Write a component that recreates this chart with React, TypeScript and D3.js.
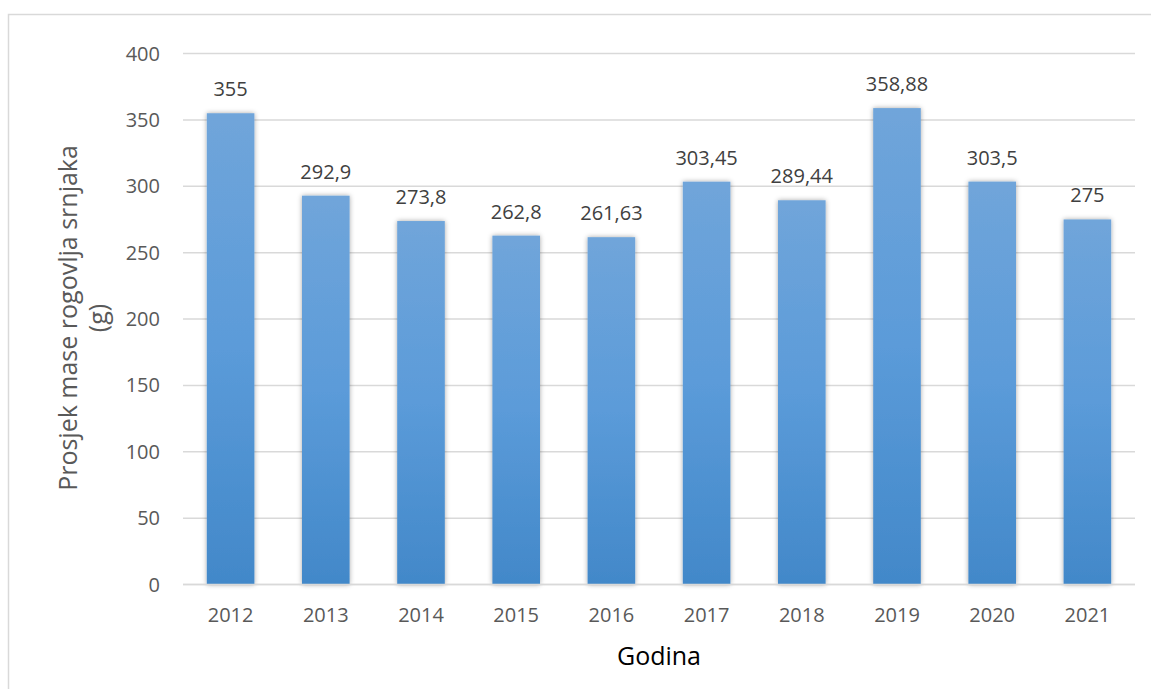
import { useEffect, useRef } from 'react'
import * as d3 from 'd3'

const years = ['2012', '2013', '2014', '2015', '2016', '2017', '2018', '2019', '2020', '2021']
const masses = [355, 292.9, 273.8, 262.8, 261.63, 303.45, 289.44, 358.88, 303.5, 275]
const massLabels = ['355', '292,9', '273,8', '262,8', '261,63', '303,45', '289,44', '358,88', '303,5', '275']
const yTicks = [0, 50, 100, 150, 200, 250, 300, 350, 400]

export default function App() {
  const svgRef = useRef<SVGSVGElement>(null)
  const width = 1151
  const height = 689

  useEffect(() => {
    if (!svgRef.current) return
    document.body.style.margin = '0'

    const svg = d3.select(svgRef.current)
    svg.selectAll('*').remove()
    svg.attr('width', width).attr('height', height)

    const font = '"Open Sans", sans-serif'
    const margin = { left: 183, right: 1135, top: 53.5, bottom: 584.5 }

    // gradient + shadow
    const defs = svg.append('defs')
    const grad = defs.append('linearGradient')
      .attr('id', 'barGrad')
      .attr('x1', 0).attr('y1', 0).attr('x2', 0).attr('y2', 1)
    grad.append('stop').attr('offset', '0%').attr('stop-color', '#70A5DA')
    grad.append('stop').attr('offset', '50%').attr('stop-color', '#5B9BD9')
    grad.append('stop').attr('offset', '100%').attr('stop-color', '#4288C9')

    const shadow = defs.append('filter')
      .attr('id', 'barShadow')
      .attr('x', '-30%').attr('y', '-10%').attr('width', '160%').attr('height', '120%')
    shadow.append('feDropShadow')
      .attr('dx', 0).attr('dy', 0)
      .attr('stdDeviation', 2.5)
      .attr('flood-color', '#000')
      .attr('flood-opacity', 0.35)

    svg.append('rect')
      .attr('width', width).attr('height', height).attr('fill', '#fff')

    // chart border
    svg.append('rect')
      .attr('x', 8.5).attr('y', 14.5)
      .attr('width', width + 20).attr('height', height + 20)
      .attr('fill', 'none')
      .attr('stroke', '#D9D9D9')
      .attr('stroke-width', 1.5)

    const x = d3.scaleBand()
      .domain(years)
      .range([margin.left, margin.right])
      .paddingInner(0.5)
      .paddingOuter(0.25)

    const y = d3.scaleLinear()
      .domain([0, 400])
      .range([margin.bottom, margin.top])

    // gridlines
    svg.append('g')
      .selectAll('line')
      .data(yTicks)
      .enter().append('line')
      .attr('x1', margin.left).attr('x2', margin.right)
      .attr('y1', d => y(d)).attr('y2', d => y(d))
      .attr('stroke', '#D9D9D9')
      .attr('stroke-width', 1.5)

    // y tick labels
    svg.append('g')
      .selectAll('text')
      .data(yTicks)
      .enter().append('text')
      .attr('x', 160)
      .attr('y', d => y(d))
      .attr('dy', '0.35em')
      .attr('text-anchor', 'end')
      .style('font-family', font)
      .style('font-size', '20px')
      .attr('fill', '#595959')
      .text(d => d)

    // bars
    svg.append('g')
      .selectAll('rect')
      .data(masses)
      .enter().append('rect')
      .attr('x', (d, i) => x(years[i])!)
      .attr('width', x.bandwidth())
      .attr('y', d => y(d))
      .attr('height', d => y(0) - y(d))
      .attr('fill', 'url(#barGrad)')
      .attr('filter', 'url(#barShadow)')

    // axis line on top of bars
    svg.append('line')
      .attr('x1', margin.left).attr('x2', margin.right)
      .attr('y1', y(0)).attr('y2', y(0))
      .attr('stroke', '#D9D9D9')
      .attr('stroke-width', 1.5)

    // data labels
    svg.append('g')
      .selectAll('text')
      .data(masses)
      .enter().append('text')
      .attr('x', (d, i) => x(years[i])! + x.bandwidth() / 2)
      .attr('y', d => y(d) - 17)
      .attr('text-anchor', 'middle')
      .style('font-family', font)
      .style('font-size', '20px')
      .attr('fill', '#404040')
      .text((d, i) => massLabels[i])

    // x tick labels
    svg.append('g')
      .selectAll('text')
      .data(years)
      .enter().append('text')
      .attr('x', d => x(d)! + x.bandwidth() / 2)
      .attr('y', 622)
      .attr('text-anchor', 'middle')
      .style('font-family', font)
      .style('font-size', '20px')
      .attr('fill', '#595959')
      .text(d => d)

    // x axis title
    svg.append('text')
      .attr('x', (margin.left + margin.right) / 2)
      .attr('y', 665)
      .attr('text-anchor', 'middle')
      .style('font-family', font)
      .style('font-size', '25px')
      .attr('fill', '#000')
      .text('Godina')

    // y axis title
    const yTitle = svg.append('text')
      .attr('transform', 'translate(77, 318) rotate(-90)')
      .attr('text-anchor', 'middle')
      .style('font-family', font)
      .style('font-size', '25px')
      .attr('fill', '#595959')
    yTitle.append('tspan').attr('x', 0).attr('y', 0).text('Prosjek mase rogovlja srnjaka')
    yTitle.append('tspan').attr('x', 0).attr('y', 30).text('(g)')
  }, [])

  return <svg ref={svgRef} style={{ display: 'block' }} />
}
